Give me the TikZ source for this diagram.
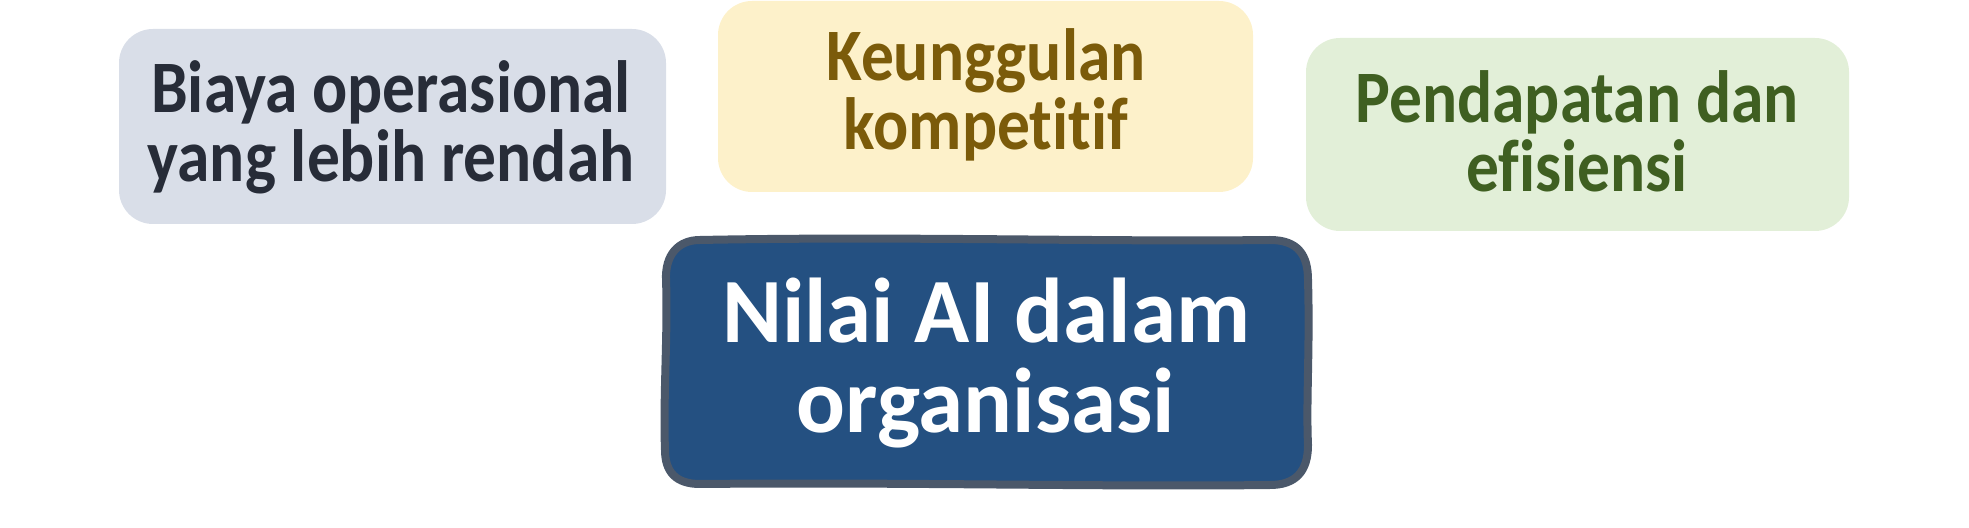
\documentclass[tikz,border=0pt]{standalone}
\usepackage{fontspec}
\setmainfont{Carlito}
\newfontfamily\kotakfont{Carlito}[FakeStretch=0.885, Ligatures=NoCommon]
\newfontfamily\pusatfont{Carlito}[FakeStretch=0.99, Ligatures=NoCommon]
\definecolor{biayafill}{HTML}{D9DEE8}
\definecolor{biayateks}{HTML}{272C38}
\definecolor{unggulfill}{HTML}{FDF1CA}
\definecolor{unggulteks}{HTML}{7B5B0A}
\definecolor{dapatfill}{HTML}{E2EFD8}
\definecolor{dapatteks}{HTML}{3F5F21}
\definecolor{nilaifill}{HTML}{245081}
\definecolor{nilaigaris}{HTML}{4B586A}
\tikzset{
  kotak/.style={draw=none, rounded corners=17pt},
  teks kecil/.style={anchor=base, align=center, inner sep=0pt,
    font={\kotakfont\bfseries\fontsize{37}{34.5}\selectfont\lineskiplimit=-30pt}},
  teks besar/.style={anchor=base, align=center, inner sep=0pt, text=white,
    font={\pusatfont\bfseries\fontsize{46}{45}\selectfont\lineskiplimit=-30pt}}
}
\begin{document}
\begin{tikzpicture}[x=0.5pt,y=0.5pt,yscale=-1,xscale=1]
        \useasboundingbox (0,0) rectangle (1969,528);
        \draw [kotak, fill=biayafill] (119,29) rectangle (666,224);
        \draw [kotak, fill=unggulfill] (718,1) rectangle (1253,192);
        \draw [kotak, fill=dapatfill] (1306,38) rectangle (1849,231);
        \draw [color=nilaigaris, line width=4pt, fill=nilaifill] (700,240) .. controls (900,236) and (1100,242) .. (1270,240) .. controls (1298,240) and (1308,255) .. (1308,280) .. controls (1310,350) and (1306,400) .. (1308,445) .. controls (1308,472) and (1295,485) .. (1270,485) .. controls (1100,487) and (900,482) .. (700,484) .. controls (676,484) and (665,472) .. (665,450) .. controls (663,400) and (668,330) .. (666,280) .. controls (665,255) and (678,240) .. (700,240) -- cycle ;
        \node (biaya) [teks kecil, text=biayateks] at (391,182) {Biaya operasional\\yang lebih rendah};
        \node (unggul) [teks kecil, text=unggulteks] at (986,150) {Keunggulan\\kompetitif};
        \node (dapat) [teks kecil, text=dapatteks] at (1577,192) {Pendapatan dan\\efisiensi};
        \node (nilai) [teks besar] at (986,433) {Nilai AI dalam\\organisasi};
\end{tikzpicture}
\end{document}
